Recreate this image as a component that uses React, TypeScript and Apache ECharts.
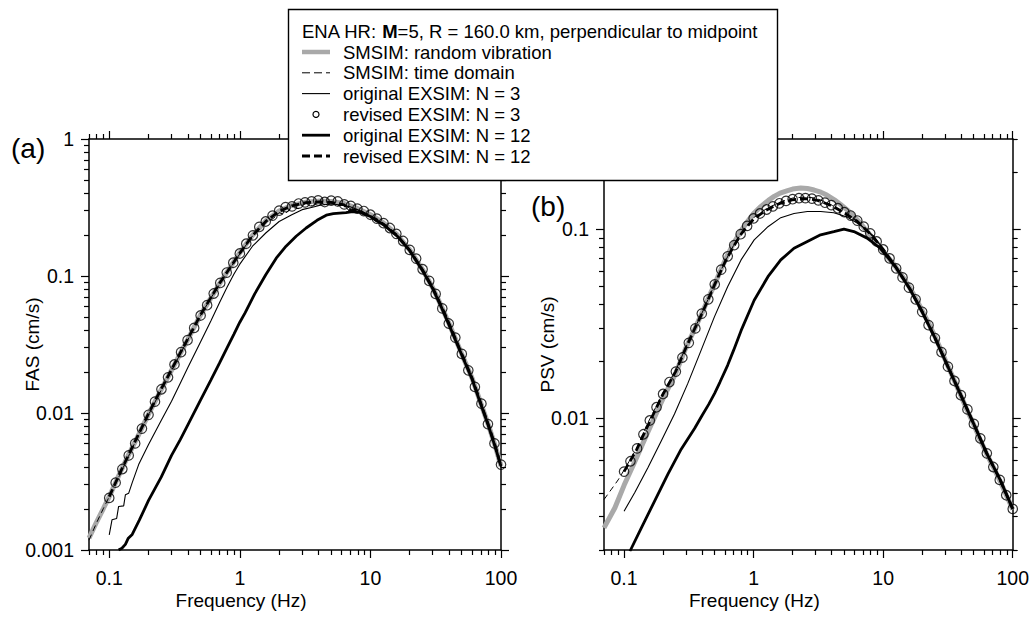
import React, { useEffect, useRef } from "react";
import * as echarts from "echarts";

// ---------------- ticks ----------------
const FREQ_TICKS = [0.1, 1, 10, 100];
const FREQ_MINOR = [0.07, 0.08, 0.09, 0.2, 0.3, 0.4, 0.5, 0.6, 0.7, 0.8, 0.9, 2, 3, 4, 5, 6, 7, 8, 9, 20, 30, 40, 50, 60, 70, 80, 90];
const FAS_TICKS = [0.001, 0.01, 0.1, 1];
const FAS_MINOR = [0.002, 0.003, 0.004, 0.005, 0.006, 0.007, 0.008, 0.009, 0.02, 0.03, 0.04, 0.05, 0.06, 0.07, 0.08, 0.09, 0.2, 0.3, 0.4, 0.5, 0.6, 0.7, 0.8, 0.9];
const PSV_TICKS = [0.01, 0.1];
const PSV_MINOR = [0.002, 0.003, 0.004, 0.005, 0.006, 0.007, 0.008, 0.009, 0.02, 0.03, 0.04, 0.05, 0.06, 0.07, 0.08, 0.09, 0.2, 0.3];

// ---------------- panel (a): FAS ----------------
const fasRvt: [number, number][] = [
  [0.07, 0.00122], [0.08, 0.0016], [0.09, 0.002], [0.1, 0.00245], [0.12, 0.0036], [0.14, 0.0049], [0.17, 0.0071],
  [0.2, 0.0098], [0.25, 0.0148], [0.3, 0.0205], [0.35, 0.0272], [0.4, 0.0345], [0.5, 0.052], [0.6, 0.069],
  [0.7, 0.088], [0.8, 0.107], [1.0, 0.148], [1.25, 0.198], [1.6, 0.255], [2.0, 0.298], [2.5, 0.328], [3.2, 0.346],
  [4.0, 0.352], [5.0, 0.35], [6.3, 0.338], [8.0, 0.31], [10, 0.28], [12.5, 0.245], [16, 0.2], [20, 0.155],
  [25, 0.112], [30, 0.082], [35, 0.06], [40, 0.045], [50, 0.027], [60, 0.018], [70, 0.0118], [80, 0.0082],
  [90, 0.0058], [100, 0.0041],
];
const fasTd: [number, number][] = [
  [0.07, 0.00118], [0.08, 0.00158], [0.09, 0.002], [0.1, 0.00245], [0.12, 0.0035], [0.14, 0.0048], [0.17, 0.0071],
  [0.2, 0.0097], [0.25, 0.0147], [0.3, 0.0204], [0.35, 0.027], [0.4, 0.0343], [0.5, 0.0515], [0.6, 0.069],
  [0.7, 0.087], [0.8, 0.106], [1.0, 0.145], [1.25, 0.196], [1.6, 0.25], [1.8, 0.262], [2.0, 0.29], [2.2, 0.28],
  [2.5, 0.318], [2.8, 0.31], [3.2, 0.34], [3.6, 0.325], [4.0, 0.35], [4.5, 0.33], [5.0, 0.345], [5.6, 0.325],
  [6.3, 0.335], [7.0, 0.31], [8.0, 0.305], [9, 0.28], [10, 0.275], [11, 0.25], [12.5, 0.24], [16, 0.197],
  [20, 0.153], [25, 0.11], [30, 0.081], [35, 0.059], [40, 0.044], [50, 0.0265], [60, 0.0177], [70, 0.0116],
  [80, 0.0081], [90, 0.0057], [100, 0.0041],
];
const fasOrigN3: [number, number][] = [
  [0.1, 0.00129], [0.105, 0.00166], [0.114, 0.0017], [0.118, 0.00208], [0.129, 0.0021], [0.133, 0.00253],
  [0.141, 0.0026], [0.15, 0.0031], [0.168, 0.0042], [0.2, 0.0059], [0.25, 0.0088], [0.3, 0.0122],
  [0.35, 0.0165], [0.4, 0.0215], [0.5, 0.033], [0.6, 0.047], [0.7, 0.064], [0.8, 0.083], [0.9, 0.103],
  [1.0, 0.122], [1.25, 0.165], [1.58, 0.206], [2.0, 0.25], [2.5, 0.28], [3.0, 0.305], [3.6, 0.318],
  [4.2, 0.33], [5.0, 0.335], [6.0, 0.33], [7.0, 0.32], [8.0, 0.305], [9.0, 0.29], [10, 0.27], [12.5, 0.24],
  [16, 0.197], [20, 0.154], [25, 0.111], [30, 0.081], [35, 0.06], [40, 0.044], [50, 0.0268], [60, 0.0178],
  [70, 0.0117], [80, 0.0081], [90, 0.0057], [100, 0.004],
];
const fasOrigN12: [number, number][] = [
  [0.118, 0.001], [0.125, 0.00103], [0.133, 0.0011], [0.14, 0.00122], [0.15, 0.0013], [0.17, 0.00165],
  [0.2, 0.0023], [0.25, 0.0034], [0.3, 0.0049], [0.35, 0.0064], [0.4, 0.0082], [0.5, 0.0124], [0.6, 0.0174],
  [0.7, 0.0232], [0.8, 0.03], [0.9, 0.0375], [1.0, 0.046], [1.1, 0.054], [1.3, 0.074], [1.58, 0.102],
  [1.9, 0.135], [2.26, 0.165], [2.7, 0.195], [3.22, 0.224], [3.9, 0.255], [4.59, 0.278], [5.2, 0.285],
  [5.8, 0.288], [6.5, 0.29], [7.3, 0.295], [8.27, 0.293], [9, 0.283], [10, 0.272], [11, 0.255], [12.5, 0.238],
  [16, 0.196], [20, 0.153], [25, 0.11], [30, 0.081], [35, 0.059], [40, 0.044], [50, 0.0266], [60, 0.0177],
  [70, 0.0116], [80, 0.0081], [90, 0.0057], [100, 0.0041],
];
const fasRevN12: [number, number][] = [
  [0.1, 0.00245], [0.12, 0.0036], [0.14, 0.0049], [0.17, 0.0072], [0.2, 0.0099], [0.25, 0.015], [0.3, 0.0207],
  [0.35, 0.0275], [0.4, 0.0348], [0.5, 0.052], [0.6, 0.0695], [0.7, 0.0885], [0.8, 0.107], [1.0, 0.147],
  [1.25, 0.197], [1.6, 0.253], [2.0, 0.296], [2.5, 0.325], [3.2, 0.343], [4.0, 0.348], [5.0, 0.345],
  [6.3, 0.33], [7.0, 0.3], [8.0, 0.305], [9.0, 0.285], [10, 0.27], [11, 0.26], [12.5, 0.24], [16, 0.198],
  [20, 0.154], [25, 0.111], [30, 0.082], [35, 0.06], [40, 0.045], [50, 0.027], [60, 0.018], [70, 0.0118],
  [80, 0.0082], [90, 0.0058], [100, 0.0041],
];

// circle (revised EXSIM N = 3) sample frequencies, shared by both panels
const circleFreq = [
  0.1, 0.112, 0.126, 0.141, 0.158, 0.178, 0.2, 0.224, 0.251, 0.282, 0.316, 0.355, 0.398, 0.447, 0.501, 0.562,
  0.631, 0.708, 0.794, 0.891, 1.0, 1.12, 1.26, 1.41, 1.58, 1.78, 2.0, 2.24, 2.51, 2.82, 3.16, 3.55, 3.98, 4.47,
  5.01, 5.62, 6.31, 7.08, 7.94, 8.91, 10, 11.2, 12.6, 14.1, 15.8, 17.8, 20, 22.4, 25.1, 28.2, 31.6, 35.5, 39.8,
  44.7, 50.1, 56.2, 63.1, 70.8, 79.4, 89.1, 100,
];
const fasRevN3 = [
  0.0024, 0.0031, 0.0039, 0.0049, 0.006, 0.0077, 0.0097, 0.0121, 0.0149, 0.0182, 0.0226, 0.0278, 0.034, 0.0418,
  0.0515, 0.0612, 0.0745, 0.089, 0.106, 0.125, 0.146, 0.172, 0.198, 0.228, 0.25, 0.276, 0.3, 0.318, 0.322, 0.338,
  0.345, 0.35, 0.356, 0.347, 0.355, 0.35, 0.333, 0.325, 0.31, 0.298, 0.28, 0.262, 0.243, 0.224, 0.203, 0.18,
  0.155, 0.134, 0.112, 0.092, 0.074, 0.058, 0.045, 0.0355, 0.027, 0.0205, 0.0155, 0.0117, 0.0083, 0.006, 0.0042,
];

// ---------------- panel (b): PSV ----------------
const psvRvt: [number, number][] = [
  [0.07, 0.00262], [0.085, 0.00335], [0.1, 0.0044], [0.12, 0.0058], [0.15, 0.0082], [0.172, 0.0101], [0.2, 0.0127],
  [0.25, 0.0172], [0.3, 0.0235], [0.35, 0.0295], [0.4, 0.036], [0.45, 0.0435], [0.5, 0.051], [0.56, 0.0612],
  [0.63, 0.073], [0.71, 0.0855], [0.8, 0.098], [0.9, 0.11], [1.0, 0.121], [1.14, 0.132], [1.3, 0.142],
  [1.44, 0.149], [1.6, 0.155], [1.83, 0.16], [2.0, 0.163], [2.31, 0.165], [2.6, 0.164], [2.93, 0.161],
  [3.3, 0.157], [3.7, 0.151], [4.2, 0.143], [4.69, 0.135], [5.3, 0.126], [5.94, 0.117], [6.7, 0.107],
  [7.52, 0.097], [8.5, 0.088], [9.5, 0.08], [10.7, 0.072], [12.1, 0.065], [13.6, 0.058], [15.3, 0.0516],
  [17.2, 0.045], [19.3, 0.0388], [21.8, 0.033], [24.5, 0.028], [27.6, 0.0233], [31, 0.0194], [35, 0.0161],
  [39.3, 0.0134], [44.2, 0.0111], [49.8, 0.0093], [56, 0.0077], [63, 0.00644], [70.8, 0.0055], [79.7, 0.00465],
  [89.3, 0.0039], [100, 0.00328],
];
const psvTd: [number, number][] = [
  [0.07, 0.0037], [0.08, 0.0042], [0.09, 0.0047], [0.1, 0.0053], [0.125, 0.0069], [0.15, 0.0092], [0.2, 0.0136],
  [0.25, 0.0178], [0.3, 0.0237], [0.35, 0.0297], [0.4, 0.036], [0.5, 0.051], [0.6, 0.067], [0.7, 0.082],
  [0.8, 0.095], [0.9, 0.105], [1.0, 0.115], [1.25, 0.128], [1.6, 0.139], [2.0, 0.146], [2.5, 0.148],
  [3.0, 0.146], [3.5, 0.14], [4.0, 0.134], [5.0, 0.123], [6.3, 0.11], [8.0, 0.094], [10, 0.078], [12.5, 0.063],
  [16, 0.0485], [20, 0.0365], [25, 0.0267], [31.6, 0.0187], [40, 0.0131], [50, 0.0093], [63, 0.0065],
  [80, 0.0047], [100, 0.0033],
];
const psvOrigN3: [number, number][] = [
  [0.1, 0.00321], [0.121, 0.00403], [0.153, 0.00547], [0.194, 0.00757], [0.245, 0.0105], [0.31, 0.0152],
  [0.393, 0.0228], [0.498, 0.0343], [0.63, 0.0495], [0.8, 0.0687], [1.01, 0.0877], [1.29, 0.103], [1.62, 0.115],
  [2.05, 0.121], [2.6, 0.124], [3.29, 0.124], [4.16, 0.122], [5.27, 0.116], [6.67, 0.105], [8.5, 0.0914],
  [10.1, 0.0777], [12.5, 0.063], [16, 0.0485], [20, 0.0365], [25, 0.0267], [31.6, 0.0187], [40, 0.0131],
  [50, 0.0093], [63, 0.0065], [80, 0.0047], [100, 0.0033],
];
const psvOrigN12: [number, number][] = [
  [0.111, 0.00197], [0.136, 0.00262], [0.172, 0.00363], [0.218, 0.00504], [0.276, 0.00684], [0.35, 0.0088],
  [0.4, 0.0103], [0.45, 0.0118], [0.5, 0.0135], [0.55, 0.0155], [0.63, 0.019], [0.7, 0.0228], [0.8, 0.029],
  [1.01, 0.042], [1.29, 0.056], [1.62, 0.0687], [2.05, 0.0792], [2.6, 0.086], [3.29, 0.0933], [4.16, 0.097],
  [4.98, 0.1], [5.94, 0.097], [7.52, 0.0896], [9.5, 0.0792], [12.5, 0.063], [16, 0.0485], [20, 0.0365],
  [25, 0.0267], [31.6, 0.0187], [40, 0.0131], [50, 0.0093], [63, 0.0065], [80, 0.0047], [100, 0.0033],
];
const psvRevN12: [number, number][] = [
  [0.1, 0.0052], [0.125, 0.0068], [0.15, 0.0089], [0.2, 0.0134], [0.25, 0.0176], [0.3, 0.0235], [0.35, 0.0296],
  [0.4, 0.0358], [0.5, 0.0508], [0.6, 0.0668], [0.7, 0.081], [0.8, 0.094], [0.9, 0.104], [1.0, 0.113],
  [1.25, 0.126], [1.6, 0.137], [2.0, 0.143], [2.5, 0.145], [3.0, 0.143], [3.5, 0.138], [4.0, 0.133],
  [5.0, 0.122], [6.3, 0.11], [8.0, 0.094], [10, 0.078], [12.5, 0.063], [16, 0.0485], [20, 0.0365], [25, 0.0267],
  [31.6, 0.0187], [40, 0.0131], [50, 0.0093], [63, 0.0065], [80, 0.0047], [100, 0.0033],
];
const psvRevN3 = [
  0.0052, 0.0059, 0.0069, 0.0082, 0.0097, 0.0114, 0.0134, 0.0155, 0.0176, 0.0209, 0.025, 0.0298, 0.0357, 0.0425,
  0.051, 0.061, 0.0718, 0.0823, 0.094, 0.104, 0.114, 0.121, 0.127, 0.132, 0.137, 0.141, 0.144, 0.146, 0.146,
  0.145, 0.142, 0.138, 0.134, 0.129, 0.123, 0.118, 0.111, 0.103, 0.095, 0.086, 0.078, 0.07, 0.062, 0.0555, 0.049,
  0.0425, 0.0365, 0.031, 0.0265, 0.0223, 0.0187, 0.0157, 0.0132, 0.0111, 0.0093, 0.0078, 0.0065, 0.0055, 0.0047,
  0.0039, 0.0033,
];

const LEGEND_TITLE = ["ENA HR: ", "M", "=5, R = 160.0 km, perpendicular to midpoint"];
const LEGEND_ITEMS = [
  "SMSIM: random vibration",
  "SMSIM: time domain",
  "original EXSIM: N = 3",
  "revised EXSIM: N = 3",
  "original EXSIM: N = 12",
  "revised EXSIM: N = 12",
];

const FONT = '"Liberation Sans", Arial, Helvetica, sans-serif';
const GRAY = "#a9a9a9";

function fmt(v: number) {
  return String(v);
}

function makeXAxes(gi: number, name: string) {
  const base = (pos: string, ticks: number[], len: number, line: boolean) => ({
    type: "log",
    logBase: 10,
    gridIndex: gi,
    min: 0.07,
    max: 100,
    position: pos,
    splitLine: { show: false },
    minorTick: { show: false },
    axisLine: { show: line, onZero: false, lineStyle: { color: "#000", width: 1.5 } },
    axisTick: { show: true, inside: false, length: len, customValues: ticks, lineStyle: { color: "#000", width: 1.2 } },
    axisLabel: { show: false },
  });
  const bottom: any = base("bottom", FREQ_TICKS, 8, true);
  bottom.axisLabel = {
    show: true,
    customValues: FREQ_TICKS,
    formatter: fmt,
    color: "#000",
    fontSize: 19.5,
    fontFamily: FONT,
    margin: 18,
  };
  bottom.name = name;
  bottom.nameLocation = "middle";
  bottom.nameGap = 41;
  bottom.nameMoveOverlap = false;
  bottom.nameTextStyle = { color: "#000", fontSize: 19, fontFamily: FONT, padding: [0, 108, 0, 0] };
  return [
    bottom,
    base("top", FREQ_TICKS, 8, true),
    base("bottom", FREQ_MINOR, 5, false),
    base("top", FREQ_MINOR, 5, false),
  ];
}

function makeYAxes(gi: number, min: number, max: number, ticks: number[], minor: number[], name: string) {
  const base = (pos: string, t: number[], len: number, line: boolean) => ({
    type: "log",
    logBase: 10,
    gridIndex: gi,
    min,
    max,
    position: pos,
    splitLine: { show: false },
    minorTick: { show: false },
    axisLine: { show: line, onZero: false, lineStyle: { color: "#000", width: 1.5 } },
    axisTick: { show: true, inside: false, length: len, customValues: t, lineStyle: { color: "#000", width: 1.2 } },
    axisLabel: { show: false },
  });
  const left: any = base("left", ticks, 8, true);
  left.axisLabel = {
    show: true,
    customValues: ticks,
    formatter: fmt,
    color: "#000",
    fontSize: 19.5,
    fontFamily: FONT,
    margin: 15,
  };
  left.name = name;
  left.nameLocation = "middle";
  left.nameGap = 47;
  left.nameMoveOverlap = false;
  left.nameTextStyle = { color: "#000", fontSize: 19, fontFamily: FONT };
  return [
    left,
    base("right", ticks, 8, true),
    base("left", minor, 5, false),
    base("right", minor, 5, false),
  ];
}

function panelSeries(
  gi: number,
  rvt: [number, number][],
  td: [number, number][],
  origN3: [number, number][],
  revN3: number[],
  origN12: [number, number][],
  revN12: [number, number][]
) {
  const ax = { xAxisIndex: gi * 4, yAxisIndex: gi * 4 };
  const line = (name: string, data: [number, number][], width: number, color: string, dash: any, z: number) => ({
    type: "line",
    name,
    ...ax,
    data,
    showSymbol: false,
    symbol: "none",
    z,
    lineStyle: { color, width, type: dash },
  });
  return [
    line(LEGEND_ITEMS[0], rvt, 5, GRAY, "solid", 1),
    line(LEGEND_ITEMS[1], td, 1, "#000", [6, 4], 3),
    line(LEGEND_ITEMS[2], origN3, 1.1, "#000", "solid", 3),
    {
      type: "scatter",
      name: LEGEND_ITEMS[3],
      ...ax,
      data: circleFreq.map((f, i) => [f, revN3[i]]),
      symbol: "circle",
      symbolSize: 9.5,
      z: 4,
      itemStyle: { color: "rgba(255,255,255,0)", borderColor: "#000", borderWidth: 1.2 },
    },
    line(LEGEND_ITEMS[4], origN12, 2.8, "#000", "solid", 3),
    line(LEGEND_ITEMS[5], revN12, 2.8, "#000", [8, 4], 3),
  ];
}

function legendGraphics() {
  const x0 = 288.5, y0 = 9.5, w = 489, h = 171;
  const els: any[] = [
    {
      type: "rect",
      z: 100,
      shape: { x: x0, y: y0, width: w, height: h },
      style: { fill: "#fff", stroke: "#000", lineWidth: 1.4 },
    },
    {
      type: "text",
      z: 101,
      x: 302,
      y: 31,
      style: {
        text: `{n|${LEGEND_TITLE[0]}}{b|${LEGEND_TITLE[1]}}{n|${LEGEND_TITLE[2]}}`,
        verticalAlign: "middle",
        align: "left",
        rich: {
          n: { fontSize: 18.5, fontFamily: FONT, fill: "#000" },
          b: { fontSize: 18.5, fontFamily: FONT, fontWeight: "bold", fill: "#000" },
        },
      },
    },
  ];
  const rowY = [52, 72.8, 93.6, 114.4, 135.2, 156];
  const sx1 = 302, sx2 = 330;
  const samples: any[] = [
    { type: "line", shape: { x1: sx1, y1: rowY[0], x2: sx2, y2: rowY[0] }, style: { stroke: GRAY, lineWidth: 4.5 } },
    { type: "line", shape: { x1: sx1, y1: rowY[1], x2: sx2, y2: rowY[1] }, style: { stroke: "#000", lineWidth: 1, lineDash: [8, 4] } },
    { type: "line", shape: { x1: sx1, y1: rowY[2], x2: sx2, y2: rowY[2] }, style: { stroke: "#000", lineWidth: 1.1 } },
    { type: "circle", shape: { cx: (sx1 + sx2) / 2, cy: rowY[3], r: 3 }, style: { fill: "#fff", stroke: "#000", lineWidth: 1.2 } },
    { type: "line", shape: { x1: sx1, y1: rowY[4], x2: sx2, y2: rowY[4] }, style: { stroke: "#000", lineWidth: 2.8 } },
    { type: "line", shape: { x1: sx1, y1: rowY[5], x2: sx2, y2: rowY[5] }, style: { stroke: "#000", lineWidth: 2.8, lineDash: [8, 4] } },
  ];
  samples.forEach((s) => els.push({ ...s, z: 101 }));
  LEGEND_ITEMS.forEach((t, i) =>
    els.push({
      type: "text",
      z: 101,
      x: 343,
      y: rowY[i],
      style: { text: t, fontSize: 18.5, fontFamily: FONT, fill: "#000", verticalAlign: "middle", align: "left" },
    })
  );
  els.push({
    type: "text",
    z: 101,
    x: 11,
    y: 148,
    style: { text: "(a)", fontSize: 28, fontFamily: FONT, fill: "#000", verticalAlign: "middle", align: "left" },
  });
  els.push({
    type: "text",
    z: 101,
    x: 531,
    y: 206,
    style: { text: "(b)", fontSize: 28, fontFamily: FONT, fill: "#000", verticalAlign: "middle", align: "left" },
  });
  return els;
}

export default function App() {
  const ref = useRef<HTMLDivElement>(null);
  useEffect(() => {
    if (!ref.current) return;
    const chart = echarts.init(ref.current, null, { renderer: "svg" });
    const option: any = {
      animation: false,
      backgroundColor: "#fff",
      textStyle: { fontFamily: FONT },
      grid: [
        { left: 89, top: 139, width: 412, height: 411 },
        { left: 604, top: 139, width: 411, height: 411 },
      ],
      xAxis: [...makeXAxes(0, "Frequency (Hz)"), ...makeXAxes(1, "Frequency (Hz)")],
      yAxis: [
        ...makeYAxes(0, 0.001, 1, FAS_TICKS, FAS_MINOR, "FAS (cm/s)"),
        ...makeYAxes(1, 0.002, 0.3, PSV_TICKS, PSV_MINOR, "PSV (cm/s)"),
      ],
      series: [
        ...panelSeries(0, fasRvt, fasTd, fasOrigN3, fasRevN3, fasOrigN12, fasRevN12),
        ...panelSeries(1, psvRvt, psvTd, psvOrigN3, psvRevN3, psvOrigN12, psvRevN12),
      ],
      graphic: { elements: legendGraphics() },
    };
    chart.setOption(option);
    return () => chart.dispose();
  }, []);
  return (
    <div
      ref={ref}
      style={{ position: "fixed", left: 0, top: 0, width: 1032, height: 632, background: "#fff" }}
    />
  );
}
